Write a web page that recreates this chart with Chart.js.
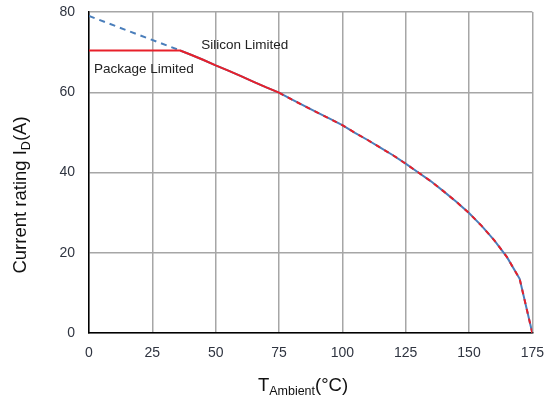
<!DOCTYPE html>
<html lang="en">
<head>
    <meta charset="UTF-8">
    <title>Current rating vs ambient temperature</title>
    <script src="https://cdn.jsdelivr.net/npm/chart.js"></script>
    <style>
        html, body { margin: 0; padding: 0; background: #fff; }
        #wrap { width: 556px; height: 402px; }
    </style>
</head>
<body>
    <div id="wrap"><canvas id="myChart" width="556" height="402"></canvas></div>
    <script>
        // Silicon limited current vs ambient temperature
        const siliconTemp = [0, 36, 40, 45, 50, 55, 60, 65, 70, 75, 80, 85, 90, 95, 100,
            105, 110, 115, 120, 125, 130, 135, 140, 145, 150, 155, 160, 165, 170, 175];
        const siliconCurrent = [79.0, 70.4, 69.4, 68.1, 66.7, 65.4, 64.0, 62.6, 61.2, 59.9, 58.2, 56.6, 55.0, 53.4, 51.8,
            49.9, 48.1, 46.2, 44.3, 42.2, 40.0, 37.8, 35.3, 32.7, 29.9, 26.7, 23.1, 18.9, 13.5, 0];
        // Package limit clamps the rating until the silicon curve drops below it
        const packageLimit = 70.4;
        const knee = 36;
        const xTicks = [0, 25, 50, 75, 100, 125, 150, 175];
        const yTicks = [0, 20, 40, 60, 80];

        const siliconPts = siliconTemp.map((t, i) => ({ x: t, y: siliconCurrent[i] }));
        const packagePts = [{ x: 0, y: packageLimit }].concat(siliconPts.filter(p => p.x >= knee));

        const tickFont = { family: 'Liberation Sans, Arial, sans-serif', size: 14 };
        const tickColor = '#2f3440';

        // draws a run of [text, font, dy] pieces centred on cx
        function drawRun(ctx, parts, cx, y) {
            let w = 0;
            parts.forEach(p => { ctx.font = p[1]; w += ctx.measureText(p[0]).width; });
            let x = cx - w / 2;
            parts.forEach(p => {
                ctx.font = p[1];
                ctx.fillText(p[0], x, y + p[2]);
                x += ctx.measureText(p[0]).width;
            });
        }

        // axis titles with subscripts, drawn by hand
        const titles = {
            id: 'titles',
            afterDraw(chart) {
                const ctx = chart.ctx;
                const big = '18.5px Liberation Sans, Arial, sans-serif';
                const small = '12.5px Liberation Sans, Arial, sans-serif';
                ctx.save();
                ctx.fillStyle = '#111';
                ctx.textBaseline = 'alphabetic';
                drawRun(ctx, [['T', big, 0], ['Ambient', small, 4], ['(°C)', big, 0]], 303, 391);

                ctx.translate(26, 195);
                ctx.rotate(-Math.PI / 2);
                drawRun(ctx, [['Current rating I', big, 0], ['D', small, 4], ['(A)', big, 0]], 0, 0);
                ctx.restore();

                // curve labels
                ctx.save();
                ctx.fillStyle = '#222';
                ctx.font = '13.5px Liberation Sans, Arial, sans-serif';
                ctx.textBaseline = 'middle';
                const xs = chart.scales.x, ys = chart.scales.y;
                ctx.fillText('Silicon Limited', xs.getPixelForValue(44.3), ys.getPixelForValue(71.7));
                ctx.fillText('Package Limited', xs.getPixelForValue(2.0), ys.getPixelForValue(65.7));
                ctx.restore();
            }
        };

        const ctx = document.getElementById('myChart').getContext('2d');
        const myChart = new Chart(ctx, {
            type: 'scatter',
            data: {
                datasets: [{
                    label: 'Package Limited',
                    data: packagePts,
                    showLine: true,
                    borderColor: '#e8202a',
                    borderWidth: 2,
                    pointRadius: 0,
                    segment: {
                        borderDash: c => c.p0.parsed.x >= 75 ? [5, 5] : undefined
                    },
                    order: 0
                }, {
                    label: 'Silicon Limited',
                    data: siliconPts,
                    showLine: true,
                    borderColor: '#4a7ebb',
                    borderWidth: 2,
                    pointRadius: 0,
                    segment: {
                        borderDash: c => c.p0.parsed.x < knee ? [6, 5] : undefined
                    },
                    order: 1
                }]
            },
            options: {
                responsive: false,
                animation: false,
                layout: { padding: { left: 0, right: 23, top: 12, bottom: 0 } },
                plugins: {
                    legend: { display: false },
                    tooltip: { enabled: false }
                },
                scales: {
                    x: {
                        type: 'linear',
                        min: 0,
                        max: 175,
                        afterFit: s => { s.height = 69; },
                        afterBuildTicks: s => { s.ticks = xTicks.map(v => ({ value: v })); },
                        grid: { color: '#a6a6a6', lineWidth: 1.5, drawTicks: false },
                        border: { color: '#000', width: 1.5 },
                        ticks: { padding: 12, font: tickFont, color: tickColor }
                    },
                    y: {
                        min: 0,
                        max: 80,
                        afterFit: s => { s.width = 89; s.paddingTop = 0; s.paddingBottom = 0; },
                        afterBuildTicks: s => { s.ticks = yTicks.map(v => ({ value: v })); },
                        grid: { color: '#a6a6a6', lineWidth: 1.5, drawTicks: false },
                        border: { color: '#000', width: 1.5 },
                        ticks: { padding: 14, font: tickFont, color: tickColor }
                    }
                }
            },
            plugins: [titles]
        });
    </script>
</body>
</html>
